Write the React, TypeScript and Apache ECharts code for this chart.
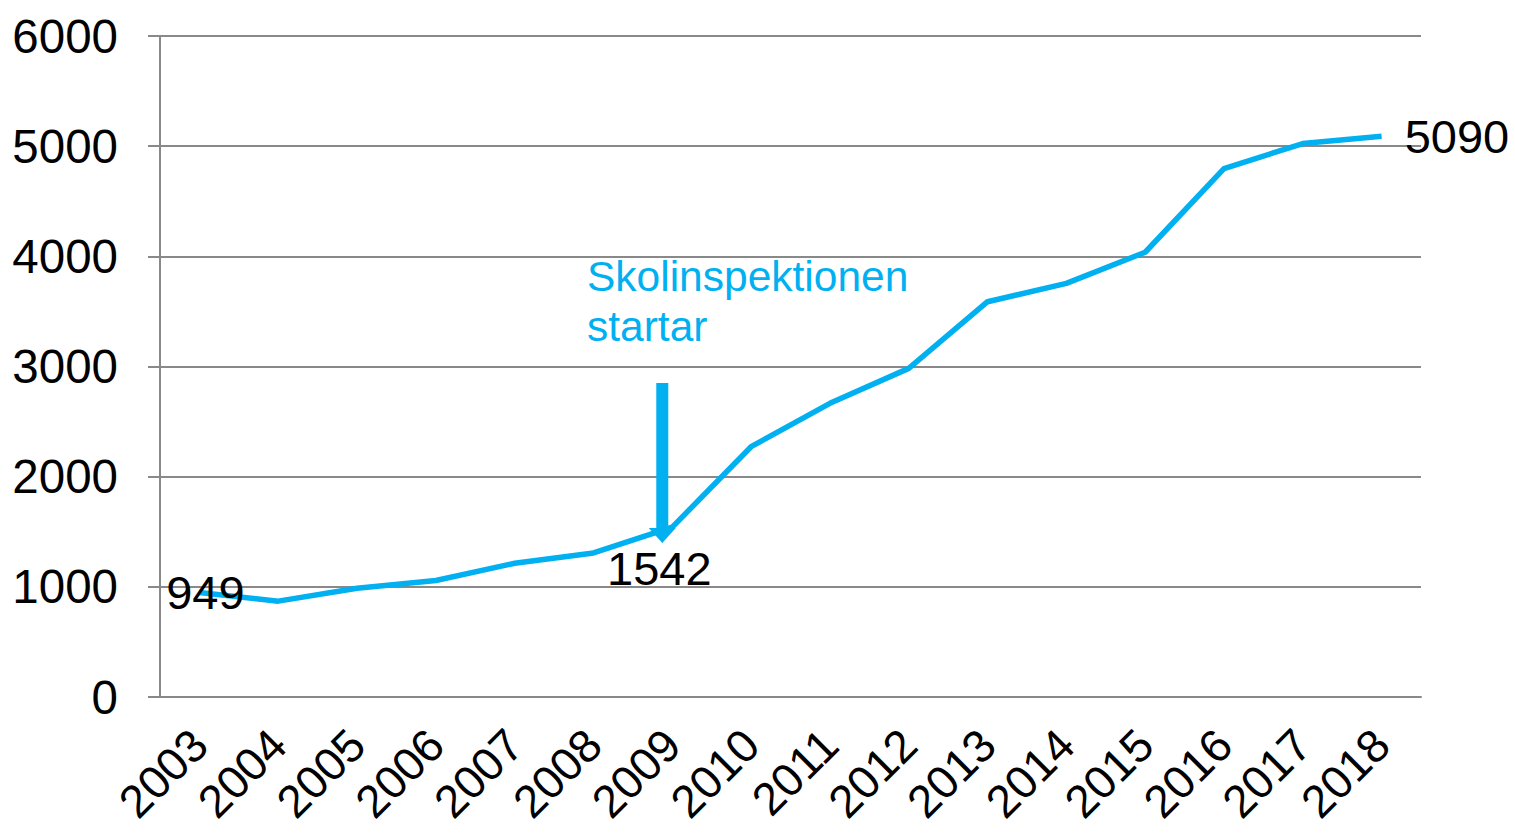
import React, { useEffect, useRef } from "react";
import * as echarts from "echarts";

const years = ["2003","2004","2005","2006","2007","2008","2009","2010","2011","2012","2013","2014","2015","2016","2017","2018"];
const counts = [949, 870, 987, 1058, 1214, 1308, 1542, 2272, 2666, 2983, 3588, 3755, 4037, 4796, 5024, 5090];
const yTicks = { min: 0, max: 6000, interval: 1000 };
const annotationText = "Skolinspektionen\nstartar";
const annotatedYear = "2009";

const FONT = "'Liberation Sans', Arial, sans-serif";
const BLUE = "#00B0F0";
const GRAY = "#898989";

export default function App() {
  const ref = useRef<HTMLDivElement>(null);
  useEffect(() => {
    if (!ref.current) return;
    const chart = echarts.init(ref.current, null, { renderer: "svg" });
    const labelIdx: Record<number, any> = {
      0: { position: "inside", offset: [6, 0] },
      6: { position: "bottom", distance: 18, offset: [-13, 0] },
      15: { position: "right", distance: 23 },
    };
    chart.setOption({
      animation: false,
      textStyle: { fontFamily: FONT },
      grid: { left: 160, right: 94, top: 36, bottom: 136, containLabel: false, outerBoundsMode: "none" },
      xAxis: {
        type: "category",
        data: years,
        boundaryGap: true,
        axisLine: { lineStyle: { color: GRAY, width: 2 } },
        axisTick: { length: 14, lineStyle: { color: GRAY, width: 2 } },
        axisLabel: { rotate: 45, color: "#000", fontSize: 46, fontFamily: FONT, margin: 40, interval: 0 },
      },
      yAxis: {
        type: "value",
        min: yTicks.min,
        max: yTicks.max,
        interval: yTicks.interval,
        axisLine: { show: true, lineStyle: { color: GRAY, width: 2 } },
        axisTick: { show: true, length: 12, lineStyle: { color: GRAY, width: 2 } },
        splitLine: { lineStyle: { color: GRAY, width: 2 } },
        axisLabel: { color: "#000", fontSize: 47.5, fontFamily: FONT, margin: 42, formatter: (v: number) => String(v) },
      },
      series: [
        {
          type: "line",
          data: counts.map((v, i) =>
            labelIdx[i]
              ? { value: v, label: { show: true, ...labelIdx[i] } }
              : v
          ),
          symbol: "circle",
          symbolSize: 0.1,
          showSymbol: true,
          itemStyle: { color: BLUE },
          lineStyle: { color: BLUE, width: 5.5 },
          label: { show: false, color: "#000", fontSize: 47, fontFamily: FONT },
          z: 3,
        },
      ],
    });
    const [ax, ay] = chart.convertToPixel({ xAxisIndex: 0, yAxisIndex: 0 }, [annotatedYear, counts[years.indexOf(annotatedYear)]]) as number[];
    const cx = ax - 10;
    const tipY = ay + 16;
    chart.setOption({
      graphic: [
        {
          type: "text",
          left: 587,
          top: 251,
          style: { text: annotationText, fill: BLUE, fontSize: 42.5, fontFamily: FONT, lineHeight: 50 },
          z: 10,
        },
        {
          type: "rect",
          shape: { x: cx - 6, y: 383, width: 12, height: tipY - 14 - 383 },
          style: { fill: BLUE },
          z: 10,
        },
        {
          type: "polygon",
          shape: { points: [[cx - 13.5, tipY - 15], [cx + 13.5, tipY - 15], [cx, tipY]] },
          style: { fill: BLUE },
          z: 10,
        },
      ],
    });
    return () => chart.dispose();
  }, []);
  return <div ref={ref} style={{ position: "fixed", left: 0, top: 0, width: 1515, height: 833, background: "#fff" }} />;
}
